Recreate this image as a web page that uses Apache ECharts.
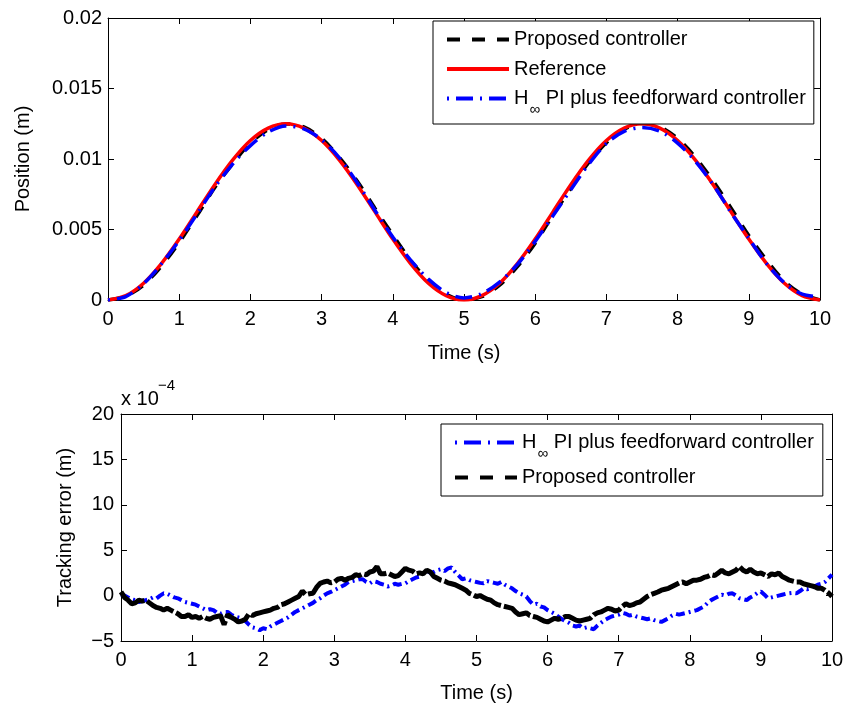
<!DOCTYPE html>
<html>
<head>
<meta charset="utf-8">
<script src="https://cdn.jsdelivr.net/npm/echarts@6/dist/echarts.min.js"></script>
<style>
  html, body { margin: 0; padding: 0; background: #fff; }
  #chart { width: 853px; height: 704px; }
</style>
</head>
<body>
<div id="chart"></div>
<script>
// ---- series names ----
const NAME_PROPOSED = 'Proposed controller';
const NAME_REF = 'Reference';
const NAME_HINF = 'H∞ PI plus feedforward controller';

// ---- axis ticks ----
const timeTicks = [0, 1, 2, 3, 4, 5, 6, 7, 8, 9, 10];
const positionTicks = [0, 0.005, 0.01, 0.015, 0.02];
const errorTicks = [-5, 0, 5, 10, 15, 20];          // in units of 1e-4 m

// ---- position traces (m), sampled every 0.25 s ----
const posTimeStep = 0.25;
const positionReference = [
  0, 0.00031, 0.00119, 0.00258, 0.00432, 0.00625, 0.00818, 0.00992, 0.01131, 0.01219,
  0.0125, 0.01219, 0.01131, 0.00992, 0.00818, 0.00625, 0.00432, 0.00258, 0.00119, 0.00031,
  0, 0.00031, 0.00119, 0.00258, 0.00432, 0.00625, 0.00818, 0.00992, 0.01131, 0.01219,
  0.0125, 0.01219, 0.01131, 0.00992, 0.00818, 0.00625, 0.00432, 0.00258, 0.00119, 0.00031,
  0
];
const positionProposed = [
  0, 0.00026, 0.00106, 0.0024, 0.00408, 0.00599, 0.00797, 0.00966, 0.01113, 0.01209,
  0.01249, 0.01228, 0.01146, 0.01012, 0.00844, 0.0065, 0.00462, 0.00282, 0.00136, 0.00041,
  0, 0.00023, 0.00105, 0.00236, 0.00403, 0.00602, 0.00791, 0.00974, 0.01115, 0.01211,
  0.01252, 0.01229, 0.01146, 0.01013, 0.00843, 0.00653, 0.00457, 0.00283, 0.00134, 0.00041,
  0
];
const positionHinf = [
  0, 0.00024, 0.00116, 0.00256, 0.00423, 0.0061, 0.008, 0.00964, 0.01095, 0.01191,
  0.01234, 0.01214, 0.01137, 0.01008, 0.00832, 0.00635, 0.00446, 0.00283, 0.00148, 0.00053,
  0.00015, 0.00045, 0.00127, 0.00252, 0.00416, 0.00597, 0.00782, 0.00962, 0.0111, 0.01196,
  0.01223, 0.01197, 0.01113, 0.00984, 0.00818, 0.00621, 0.00437, 0.00258, 0.00122, 0.00041,
  0.00023
];

// ---- tracking error (x 1e-4 m), sampled every 0.05 s ----
const errTimeStep = 0.05;
const errorHinf = [
  0.1, 0.0, -0.2, -0.4, -0.5, -0.7, -0.6, -0.5, -0.4, -0.2, -0.3, 0.0, 0.25, 0.2, 0.0, -0.2, -0.3, -0.5, -0.7, -0.8,
  -0.9, -1.0, -1.2, -1.4, -1.6, -1.5, -1.6, -1.9, -2.0, -1.8, -1.8, -2.1, -2.3, -2.4, -2.5, -2.8, -3.2, -3.5, -3.6, -3.8,
  -3.6, -3.7, -3.4, -3.2, -3.0, -2.8, -2.6, -2.4, -2.1, -1.8, -1.6, -1.4, -1.2, -1.0, -0.8, -0.5, -0.3, 0.0, 0.25, 0.4,
  0.6, 0.8, 1.0, 1.2, 1.5, 1.6, 1.7, 1.8, 1.8, 1.5, 1.35, 1.6, 1.5, 1.3, 1.2, 1.0, 1.1, 1.3, 1.2, 1.3,
  1.35, 1.6, 1.8, 2.0, 2.1, 2.5, 2.75, 2.5, 2.6, 2.8, 2.9, 2.7, 3.0, 3.1, 2.6, 2.2, 1.8, 1.9, 1.7, 1.6,
  1.5, 1.4, 1.35, 1.6, 1.5, 1.4, 1.3, 1.5, 1.2, 1.0, 0.8, 0.5, 0.25, 0.1, -0.1, -0.6, -1.0, -0.9, -1.2, -1.3,
  -1.6, -1.8, -2.0, -2.3, -2.6, -2.8, -3.0, -3.3, -3.4, -3.3, -3.6, -3.5, -3.6, -3.7, -3.3, -3.0, -2.7, -2.5, -2.3, -2.2,
  -2.1, -1.9, -2.0, -2.2, -2.1, -2.3, -2.4, -2.5, -2.6, -2.5, -2.7, -2.8, -2.9, -2.7, -2.5, -2.2, -2.0, -2.1, -2.0, -1.9,
  -1.8, -1.7, -1.6, -1.4, -1.2, -0.8, -0.5, -0.3, -0.1, 0.1, 0.0, 0.2, 0.25, 0.0, -0.3, -0.4, -0.5, -0.2, 0.0, 0.3,
  0.45, 0.1, -0.3, -0.2, -0.1, 0.0, 0.1, 0.2, 0.25, 0.3, 0.25, 0.5, 0.8, 0.7, 0.8, 1.0, 1.2, 1.3, 1.5, 1.9,
  2.3
];
const errorProposed = [
  0.4, -0.2, -0.5, -0.9, -0.8, -0.5, -0.6, -0.5, -0.8, -1.1, -1.3, -1.4, -1.6, -1.4, -1.6, -1.8, -2.0, -2.3, -2.3, -2.1,
  -2.4, -2.3, -2.5, -2.3, -2.5, -2.6, -2.4, -2.3, -2.2, -3.2, -2.1, -2.4, -2.6, -2.9, -2.8, -2.6, -2.0, -2.2, -2.0, -1.9,
  -1.8, -1.7, -1.6, -1.4, -1.3, -1.0, -0.9, -0.7, -0.5, -0.3, -0.1, 0.5, 0.1, 0.2, 0.25, 0.9, 1.35, 1.5, 1.6, 1.4,
  1.5, 1.8, 1.9, 1.7, 1.9, 2.0, 2.3, 2.2, 2.4, 2.3, 2.6, 2.7, 3.2, 2.4, 2.4, 2.5, 2.3, 2.1, 2.2, 2.6,
  3.0, 2.8, 2.7, 2.4, 2.5, 2.4, 2.8, 2.6, 2.1, 1.9, 1.7, 1.6, 1.4, 1.3, 1.2, 1.0, 0.8, 0.6, 0.25, 0.1,
  -0.1, 0.0, -0.2, -0.4, -0.5, -0.8, -1.0, -1.1, -1.2, -1.3, -1.4, -1.8, -2.1, -2.0, -1.9, -2.2, -2.3, -2.4, -2.6, -2.8,
  -2.9, -2.7, -2.5, -2.6, -2.5, -2.3, -2.3, -2.5, -2.7, -2.8, -2.7, -2.6, -2.5, -2.1, -1.9, -1.8, -1.6, -1.4, -1.5, -1.7,
  -1.6, -1.2, -0.9, -1.1, -1.0, -0.8, -0.7, -0.4, -0.1, 0.1, 0.25, 0.4, 0.6, 0.7, 0.8, 1.0, 1.2, 1.4, 1.5, 1.3,
  1.5, 1.7, 1.7, 1.8, 2.0, 2.1, 2.3, 2.2, 2.5, 2.8, 2.5, 2.4, 2.6, 2.8, 3.2, 2.8, 2.6, 2.9, 2.6, 2.4,
  2.5, 2.3, 2.1, 2.4, 2.3, 2.5, 2.1, 1.9, 1.7, 1.6, 1.5, 1.5, 1.3, 1.2, 1.1, 1.0, 0.8, 0.8, 0.6, 0.3,
  -0.1
];

// ---- helpers ----
const FONT = '"Liberation Sans", Arial, Helvetica, sans-serif';
const INK = '#000';
const withTime = (values, step) => values.map((v, i) => [+(i * step).toFixed(4), v]);
const first = a => a[0];
const last = a => a[a.length - 1];
const stepOf = a => a[1] - a[0];

const axisLineStyle = { show: true, onZero: false, lineStyle: { color: INK, width: 1 } };
const tickStyle = { show: true, inside: true, length: 6, lineStyle: { color: INK, width: 1 } };
const labelText = { color: INK, fontSize: 20, fontFamily: FONT };

function xAxes(grid, nameGap) {
  const base = {
    gridIndex: grid, type: 'value',
    min: first(timeTicks), max: last(timeTicks), interval: stepOf(timeTicks),
    axisLine: axisLineStyle, axisTick: tickStyle, splitLine: { show: false }
  };
  return [
    Object.assign({}, base, {
      position: 'bottom',
      axisLabel: Object.assign({ margin: 9 }, labelText),
      name: 'Time (s)', nameLocation: 'middle', nameGap: nameGap,
      nameTextStyle: { color: INK, fontSize: 20, fontFamily: FONT }
    }),
    Object.assign({}, base, { position: 'top', axisLabel: { show: false } })
  ];
}

function yAxes(grid, ticks, name, nameGap, margin, fmt) {
  const base = {
    gridIndex: grid, type: 'value',
    min: first(ticks), max: last(ticks), interval: stepOf(ticks),
    axisLine: axisLineStyle, axisTick: tickStyle, splitLine: { show: false }
  };
  return [
    Object.assign({}, base, {
      position: 'left',
      axisLabel: Object.assign({ margin: margin, formatter: fmt }, labelText),
      name: name, nameLocation: 'middle', nameGap: nameGap, nameRotate: 90,
      nameTextStyle: { color: INK, fontSize: 20, fontFamily: FONT }
    }),
    Object.assign({}, base, { position: 'right', axisLabel: { show: false } })
  ];
}

const richLegend = {
  t: { fontSize: 20, lineHeight: 20, fontFamily: FONT, color: INK },
  s: { fontSize: 15, lineHeight: 14, padding: [22, 0, 0, 1], fontFamily: FONT, color: INK }
};
function legendLabel(name) {
  if (name === NAME_HINF) return '{t|H}{s|∞}{t| PI plus feedforward controller}';
  return '{t|' + name + '}{s| }';
}

// legend samples: line only, no marker
const legendCommon = {
  orient: 'vertical',
  itemWidth: 62, itemHeight: 14,
  backgroundColor: '#fff', borderColor: INK, borderWidth: 1, borderRadius: 0,
  selectedMode: false,
  formatter: legendLabel,
  textStyle: { rich: richLegend },
  itemStyle: { opacity: 0, borderWidth: 0 },
  lineStyle: { width: 4 }
};

const styleProposed = { color: INK, width: 3.5, type: [13, 12] };
const styleRef = { color: '#ff0000', width: 3.5, type: 'solid' };
const styleHinf = { color: '#0000ff', width: 3.5, type: [2, 7, 17, 7] };

const option = {
  animation: false,
  backgroundColor: '#fff',
  grid: [
    { left: 108, top: 18, width: 712, height: 282 },
    { left: 121, top: 414, width: 711, height: 227 }
  ],
  xAxis: xAxes(0, 43).concat(xAxes(1, 42)),
  yAxis: yAxes(0, positionTicks, 'Position (m)', 75, 6, v => String(v))
    .concat(yAxes(1, errorTicks, 'Tracking error (m)', 46, 7, v => String(v).replace('-', '\u2212'))),
  legend: [
    Object.assign({}, legendCommon, {
      data: [NAME_PROPOSED, NAME_REF, NAME_HINF],
      left: 433, top: 21, itemGap: -7.5,
      padding: [0, 8, 7, 12]
    }),
    Object.assign({}, legendCommon, {
      data: [NAME_HINF, NAME_PROPOSED],
      left: 441, top: 424, itemGap: -2,
      padding: [0, 9, 0, 12]
    })
  ],
  graphic: [
    { type: 'text', left: 121, top: 389, style: { text: 'x 10', fontSize: 20, fontFamily: FONT, fill: INK } },
    { type: 'text', left: 158, top: 378, style: { text: '\u22124', fontSize: 15, fontFamily: FONT, fill: INK } }
  ],
  series: [
    {
      name: NAME_PROPOSED, type: 'line', xAxisIndex: 0, yAxisIndex: 0,
      data: withTime(positionProposed, posTimeStep), symbol: 'none', smooth: 0.3,
      lineStyle: styleProposed, itemStyle: { color: INK }
    },
    {
      name: NAME_REF, type: 'line', xAxisIndex: 0, yAxisIndex: 0,
      data: withTime(positionReference, posTimeStep), symbol: 'none', smooth: 0.3,
      lineStyle: styleRef, itemStyle: { color: '#ff0000' }
    },
    {
      name: NAME_HINF, type: 'line', xAxisIndex: 0, yAxisIndex: 0,
      data: withTime(positionHinf, posTimeStep), symbol: 'none', smooth: 0.3,
      lineStyle: styleHinf, itemStyle: { color: '#0000ff' }
    },
    {
      name: NAME_HINF, type: 'line', xAxisIndex: 2, yAxisIndex: 2,
      data: withTime(errorHinf, errTimeStep), symbol: 'none',
      lineStyle: { color: '#0000ff', width: 4, type: [9, 4, 2, 4] }, itemStyle: { color: '#0000ff' }
    },
    {
      name: NAME_PROPOSED, type: 'line', xAxisIndex: 2, yAxisIndex: 2,
      data: withTime(errorProposed, errTimeStep), symbol: 'none',
      lineStyle: { color: INK, width: 5, type: [30, 3] }, itemStyle: { color: INK }
    }
  ]
};

const chart = echarts.init(document.getElementById('chart'), null, { renderer: 'canvas' });
chart.setOption(option);
</script>
</body>
</html>
